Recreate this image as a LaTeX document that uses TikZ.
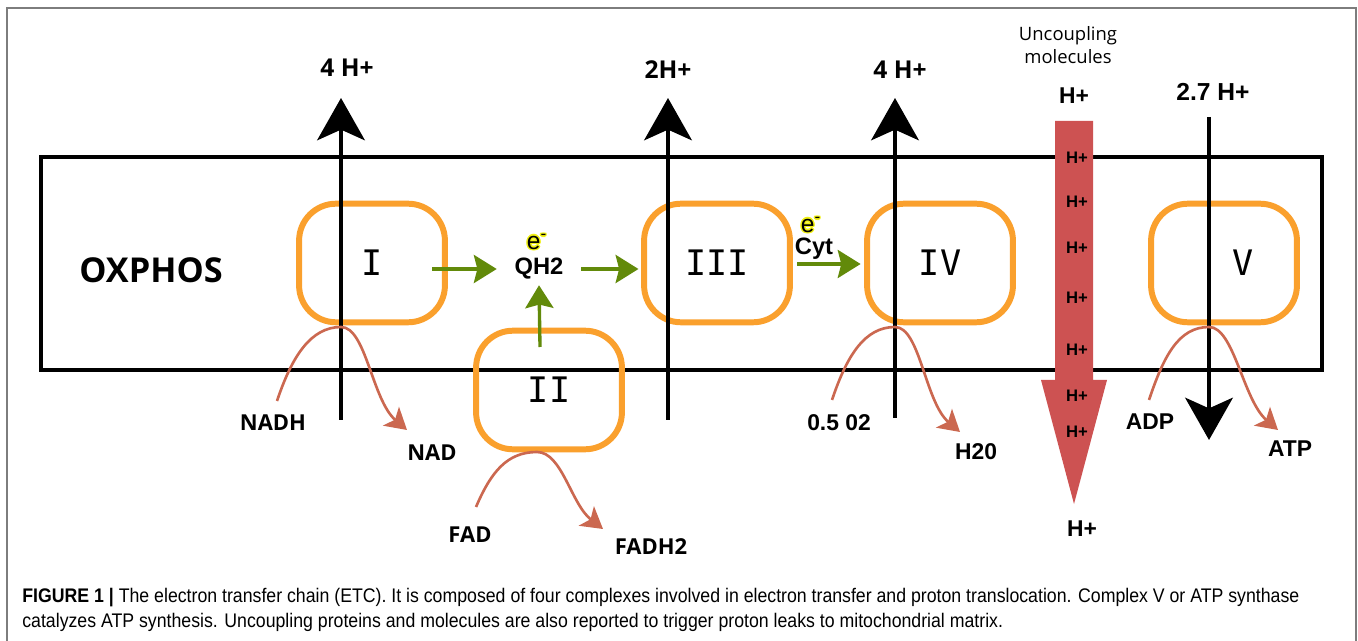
\documentclass[tikz,border=0pt]{standalone}
\usepackage{fontspec}
\usetikzlibrary{arrows.meta}
\setmainfont{Open Sans}
\newfontfamily\arialfont{Liberation Sans}
\newfontfamily\numfont{DejaVu Sans Mono}
\newfontfamily\capfont[FakeStretch=0.9]{Liberation Sans}

\definecolor{cplxorange}{RGB}{250,160,45}
\definecolor{etrgreen}{RGB}{98,138,10}
\definecolor{redoxbrown}{RGB}{203,104,80}
\definecolor{leakred}{RGB}{205,82,82}
\definecolor{haloyellow}{RGB}{240,240,20}
\definecolor{framegray}{RGB}{125,125,125}

% yellow glow behind a short text
\newcommand{\halo}[1]{{\color{haloyellow}%
  \rlap{\hspace{0.8pt}#1}\rlap{\hspace{-0.8pt}#1}%
  \rlap{\raisebox{0.8pt}{#1}}\rlap{\raisebox{-0.8pt}{#1}}%
  \rlap{\hspace{0.6pt}\raisebox{0.6pt}{#1}}\rlap{\hspace{-0.6pt}\raisebox{-0.6pt}{#1}}%
  \rlap{\hspace{0.6pt}\raisebox{-0.6pt}{#1}}\rlap{\hspace{-0.6pt}\raisebox{0.6pt}{#1}}}#1}

\begin{document}
\begin{tikzpicture}[x=0.02cm, y=-0.02cm,
    cplx/.style={draw=cplxorange, line width=3.4pt, rounded corners=21pt,
      minimum width=83pt, minimum height=67.5pt, inner sep=0pt,
      font=\numfont\fontsize{20}{24}\selectfont},
    hplus/.style={line width=2.8pt, -{Stealth[length=24pt, width=27pt, inset=6pt]}},
    etr/.style={etrgreen, line width=1.9pt, -{Stealth[length=13pt, width=16pt, inset=2pt]}},
    redox/.style={redoxbrown, line width=1.5pt, -{Stealth[length=12pt, width=14pt, inset=3pt]}},
    flux/.style={font=\bfseries\fontsize{14}{16}\selectfont},
    fluxa/.style={font=\arialfont\bfseries\fontsize{14}{16}\selectfont},
    subs/.style={font=\bfseries\fontsize{12.5}{15}\selectfont},
    subsa/.style={font=\arialfont\bfseries\fontsize{13}{15}\selectfont},
    leak/.style={font=\arialfont\bfseries\fontsize{9.5}{11}\selectfont},
    elec/.style={font=\arialfont\fontsize{14}{16}\selectfont, inner sep=0pt}]

  \useasboundingbox (0,0) rectangle (1358,641);

  % Frame
  \draw[framegray, line width=1.1pt] (7,641) -- (7,8) -- (1356,8) -- (1356,641);

  % Membrane
  \draw[line width=1.8pt] (41,157) rectangle (1322,370);
  \node[font=\bfseries\fontsize{19.5}{22}\selectfont] (oxphos) at (151,270) {OXPHOS};

  % Leak through the membrane
  \fill[leakred] (1055,121) -- (1093,121) -- (1093,380) -- (1107,380)
    -- (1074,504) -- (1041,380) -- (1055,380) -- cycle;
  \foreach \y [count=\i] in {158,202,248,298,350,396,432}
    \node[leak] (leak\i) at (1077,\y) {H+};
  \node[font=\fontsize{10.5}{13}\selectfont, align=center] (uncoup) at (1068,45)
    {Uncoupling\\molecules};
  \node[fluxa, font=\arialfont\bfseries\fontsize{13}{15}\selectfont] (leaktop) at (1074,96) {H+};
  \node[fluxa, font=\arialfont\bfseries\fontsize{13}{15}\selectfont] (leakbot) at (1082,529) {H+};

  % Complexes
  \node[cplx] (c1) at (372,263) {I};
  \node[cplx] (c2) at (549,390) {II};
  \node[cplx] (c3) at (717,263) {III};
  \node[cplx] (c4) at (940,263) {IV};
  \node[cplx] (c5) at (1224,263) {\hspace*{22pt}V};

  % Proton pumping
  \node[flux] (h1) at (347,68) {4 H+};
  \node[flux] (h3) at (668,70) {2H+};
  \node[flux] (h4) at (900,70) {4 H+};
  \node[fluxa] (h5) at (1213,92) {2.7 H+};
  \coordinate (b1) at (341,420);  \coordinate (t1) at (341,98);
  \coordinate (b3) at (668,420);  \coordinate (t3) at (668,98);
  \coordinate (b4) at (895,418);  \coordinate (t4) at (895,98);
  \coordinate (t5) at (1209,117); \coordinate (b5) at (1209,440);
  \draw[hplus] (b1) -- (t1);
  \draw[hplus] (b3) -- (t3);
  \draw[hplus] (b4) -- (t4);
  \draw[hplus] (t5) -- (b5);

  % Substrates
  \node[subs] (nadh) at (273,423) {NADH};
  \node[subs] (nad) at (432,453) {NAD};
  \node[subs] (fad) at (470,535) {FAD};
  \node[subs] (fadh) at (651,547) {FADH2};
  \node[subsa] (oxy) at (839,423) {0.5 02};
  \node[subsa] (water) at (976,452) {H20};
  \node[subsa] (adp) at (1150,422) {ADP};
  \node[subsa] (atp) at (1290,449) {ATP};

  \coordinate (s1) at (277,401);  \coordinate (p1) at (341,327);  \coordinate (e1) at (407,430);
  \coordinate (s2) at (476,507);  \coordinate (p2) at (537,452);  \coordinate (e2) at (603,529);
  \coordinate (s3) at (832,400);  \coordinate (p3) at (895,327);  \coordinate (e3) at (960,432);
  \coordinate (s4) at (1149,400); \coordinate (p4) at (1209,327); \coordinate (e4) at (1278,430);
  \draw[redox] (s1) .. controls +(15,-45) and +(-30,0) .. (p1) .. controls +(25,0) and +(-35,-30) .. (e1);
  \draw[redox] (s2) .. controls +(15,-35) and +(-30,0) .. (p2) .. controls +(25,0) and +(-32,-25) .. (e2);
  \draw[redox] (s3) .. controls +(15,-45) and +(-30,0) .. (p3) .. controls +(25,0) and +(-35,-30) .. (e3);
  \draw[redox] (s4) .. controls +(15,-45) and +(-30,0) .. (p4) .. controls +(25,0) and +(-35,-30) .. (e4);

  % Electron transfer
  \node[font=\arialfont\bfseries\fontsize{13.5}{15}\selectfont, inner xsep=10pt, inner ysep=3pt]
    (qh2) at (539,269) {QH2};
  \node[font=\arialfont\bfseries\fontsize{13.5}{15}\selectfont] (cyt) at (814,249) {Cyt};
  \node[elec] (el1) at (537,242) {\halo{e\textsuperscript{-}}};
  \node[elec] (el2) at (811,225) {\halo{e\textsuperscript{-}}};
  \coordinate (g1) at (432,269);
  \coordinate (g2) at (540,347);
  \coordinate (g3) at (797,264);
  \draw[etr] (g1) -- (qh2.west);
  \draw[etr, shorten >=1.5pt] (qh2.east) -- (qh2.east -| c3.west);
  \draw[etr] (g2) -- (qh2.south);
  \draw[etr, shorten >=2pt] (g3) -- (c4.west |- g3);

  % Caption
  \node[anchor=west, align=left, inner sep=0pt, font=\capfont\fontsize{11.2}{14}\selectfont]
    (caption) at (22,610)
    {\textbf{FIGURE 1 |} The electron transfer chain (ETC). It is composed of four complexes involved in electron transfer and proton translocation. Complex V or ATP synthase\\
     catalyzes ATP synthesis. Uncoupling proteins and molecules are also reported to trigger proton leaks to mitochondrial matrix.};
\end{tikzpicture}
\end{document}
